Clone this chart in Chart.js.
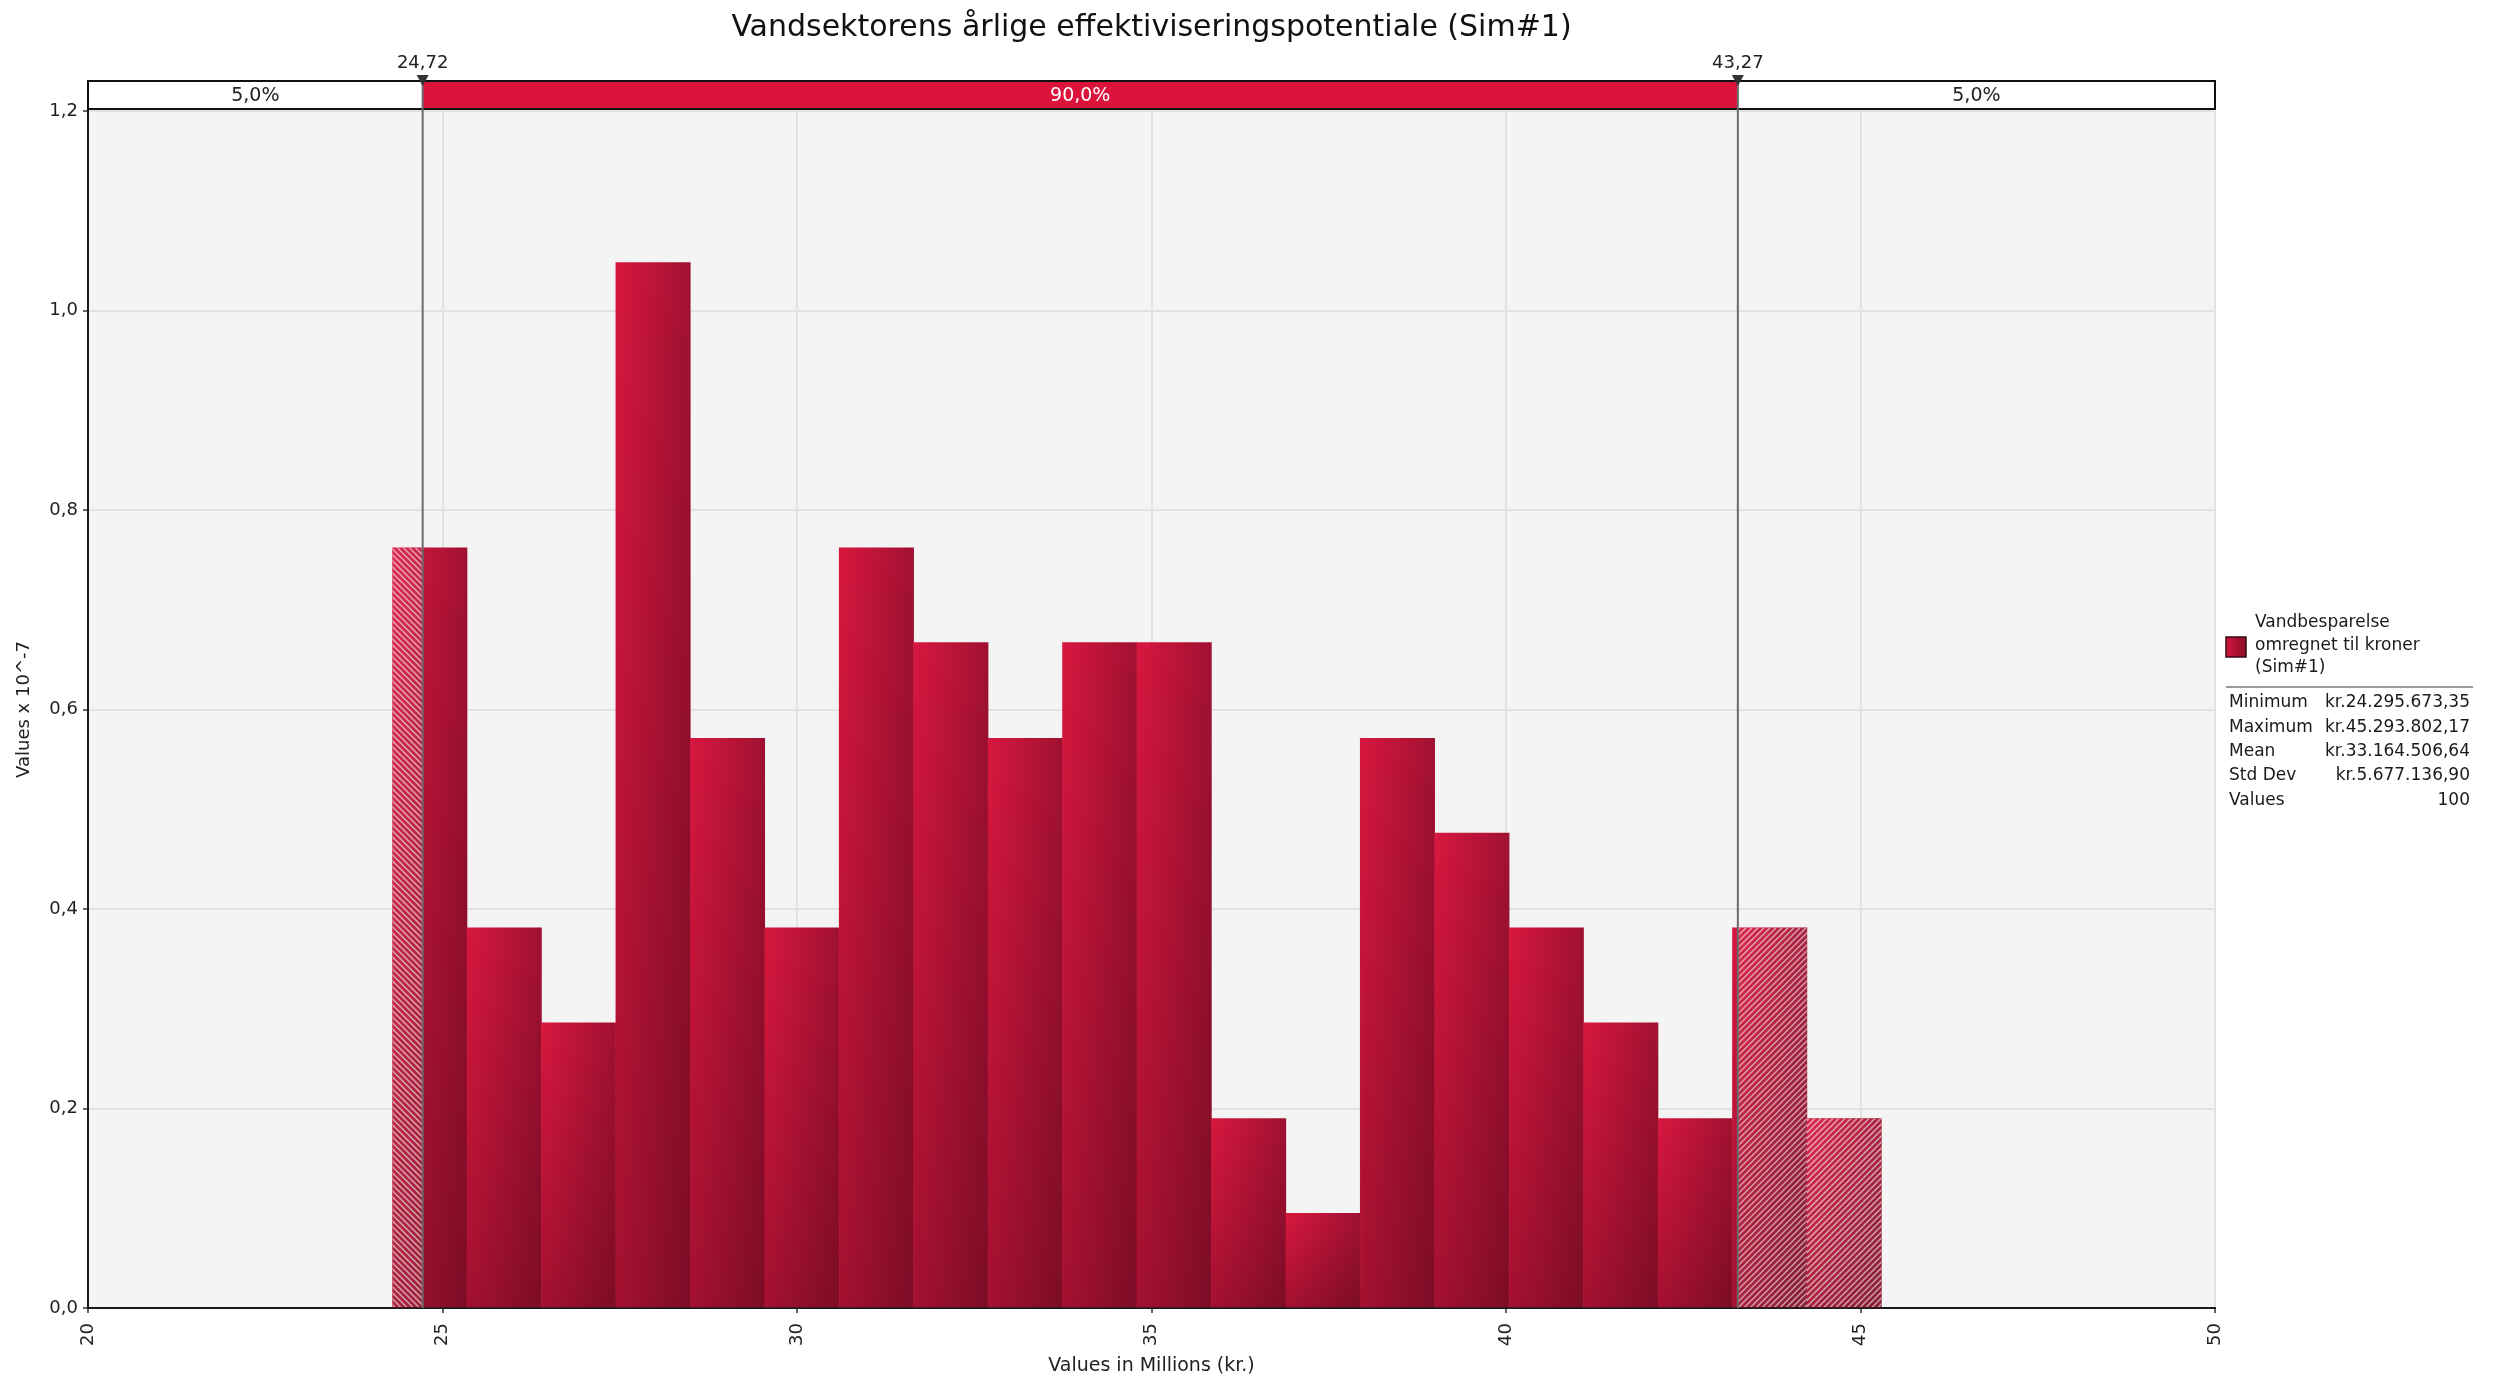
<!DOCTYPE html>
<html>
<head>
<meta charset="utf-8">
<script src="https://cdn.jsdelivr.net/npm/chart.js@4.4.1/dist/chart.umd.min.js"></script>
<style>
  html, body { margin: 0; padding: 0; background: #fff; }
  canvas { display: block; }
</style>
</head>
<body>
<canvas id="chart" width="2496" height="1381"></canvas>
<script>
// histogram bins (centres, in millions kr.) and bar heights (x 10^-7)
const binCenters = [24.821, 25.871, 26.920, 27.970, 29.020, 30.070, 31.120, 32.170, 33.220, 34.270,
                    35.320, 36.370, 37.420, 38.469, 39.519, 40.569, 41.619, 42.669, 43.719, 44.769];
const densities = [0.762, 0.381, 0.286, 1.048, 0.571, 0.381, 0.762, 0.667, 0.571, 0.667,
                   0.667, 0.190, 0.095, 0.571, 0.476, 0.381, 0.286, 0.190, 0.381, 0.190];

// 5% / 95% markers and the band above the plot
const percentileValues = [24.72, 43.27];
const percentileLabels = ['24,72', '43,27'];
const bandLabels = ['5,0%', '90,0%', '5,0%'];

// legend / statistics box
const legendLines = ['Vandbesparelse', 'omregnet til kroner', '(Sim#1)'];
const statNames = ['Minimum', 'Maximum', 'Mean', 'Std Dev', 'Values'];
const statValues = ['kr.24.295.673,35', 'kr.45.293.802,17', 'kr.33.164.506,64', 'kr.5.677.136,90', '100'];

const FONT = '"DejaVu Sans", Verdana, sans-serif';
Chart.defaults.font.family = FONT;
Chart.defaults.color = '#222';

const RED = '#DC143C';

function barFill(c) {
  const chart = c.chart, x = chart.scales && chart.scales.x;
  if (c.type !== 'data' || !x) return '#C0143A';
  const half = (binCenters[1] - binCenters[0]) / 2;
  const l = x.getPixelForValue(binCenters[c.dataIndex] - half);
  const r = x.getPixelForValue(binCenters[c.dataIndex] + half);
  if (!isFinite(l) || !isFinite(r)) return '#C0143A';
  const g = chart.ctx.createLinearGradient(l, 0, r, 0);
  g.addColorStop(0, '#D8173F');
  g.addColorStop(1, '#A01131');
  return g;
}

const extras = {
  id: 'extras',
  beforeDraw(chart) {
    const {ctx, chartArea: a} = chart;
    ctx.save();
    ctx.fillStyle = '#fff';
    ctx.fillRect(0, 0, chart.width, chart.height);
    ctx.fillStyle = '#F4F4F4';
    ctx.fillRect(a.left, a.top, a.right - a.left, a.bottom - a.top);
    ctx.restore();
  },
  afterDatasetsDraw(chart) {
    const {ctx, chartArea: a} = chart;
    const x = chart.scales.x;
    const lo = x.getPixelForValue(percentileValues[0]);
    const hi = x.getPixelForValue(percentileValues[1]);
    ctx.save();

    // vertical shading + hatch on tails
    chart.getDatasetMeta(0).data.forEach(bar => {
      const l = bar.x - bar.width / 2, r = bar.x + bar.width / 2, t = bar.y, b = bar.base;
      if (![l, r, t, b].every(isFinite)) return;
      const g = ctx.createLinearGradient(0, t, 0, b);
      g.addColorStop(0, 'rgba(30,0,8,0)');
      g.addColorStop(1, 'rgba(30,0,8,0.28)');
      ctx.fillStyle = g;
      ctx.fillRect(l, t, r - l, b - t);

      [[l, Math.min(r, lo), -1], [Math.max(l, hi), r, 1]].forEach(([hl, hr, dir]) => {
        if (hr <= hl) return;
        const h = b - t;
        ctx.save();
        ctx.beginPath();
        ctx.rect(hl, t, hr - hl, h);
        ctx.clip();
        ctx.fillStyle = 'rgba(255,255,255,0.08)';
        ctx.fillRect(hl, t, hr - hl, h);
        ctx.strokeStyle = 'rgba(255,255,255,0.55)';
        ctx.lineWidth = 1.5;
        ctx.beginPath();
        for (let s = hl - h - 10; s < hr + 10; s += 6) {
          if (dir > 0) { ctx.moveTo(s, b); ctx.lineTo(s + h, t); }
          else { ctx.moveTo(s, t); ctx.lineTo(s + h, b); }
        }
        ctx.stroke();
        ctx.restore();
      });
    });

    // band above plot
    const bt = a.top - 30, bb = a.top - 2;
    ctx.fillStyle = '#fff';
    ctx.fillRect(a.left, bt, a.right - a.left, bb - bt);
    ctx.fillStyle = RED;
    ctx.fillRect(lo, bt, hi - lo, bb - bt);
    ctx.strokeStyle = '#111';
    ctx.lineWidth = 2;
    ctx.strokeRect(a.left, bt, a.right - a.left, bb - bt);

    ctx.font = '19px ' + FONT;
    ctx.textAlign = 'center';
    ctx.textBaseline = 'middle';
    const mids = [(a.left + lo) / 2, (lo + hi) / 2, (hi + a.right) / 2];
    bandLabels.forEach((s, i) => {
      ctx.fillStyle = i === 1 ? '#fff' : '#222';
      ctx.fillText(s, mids[i], (bt + bb) / 2 + 1);
    });

    // marker lines, triangles, labels
    [lo, hi].forEach((px, i) => {
      ctx.strokeStyle = '#6a6a6a';
      ctx.lineWidth = 2;
      ctx.beginPath();
      ctx.moveTo(px, bt);
      ctx.lineTo(px, a.bottom);
      ctx.stroke();
      ctx.fillStyle = '#333';
      ctx.beginPath();
      ctx.moveTo(px - 6, bt - 6);
      ctx.lineTo(px + 6, bt - 6);
      ctx.lineTo(px, bt + 5);
      ctx.closePath();
      ctx.fill();
      ctx.fillStyle = '#222';
      ctx.font = '18px ' + FONT;
      ctx.fillText(percentileLabels[i], px, bt - 18);
    });

    // legend
    const lx = a.right + 11;
    const sw = ctx.createLinearGradient(lx, 0, lx + 20, 0);
    sw.addColorStop(0, '#D01640');
    sw.addColorStop(1, '#8A0E26');
    ctx.fillStyle = sw;
    ctx.fillRect(lx, 637, 20, 20);
    ctx.strokeStyle = '#3a0a12';
    ctx.lineWidth = 1.5;
    ctx.strokeRect(lx, 637, 20, 20);

    ctx.font = '17px ' + FONT;
    ctx.textAlign = 'left';
    ctx.fillStyle = '#1a1a1a';
    legendLines.forEach((s, i) => ctx.fillText(s, lx + 29, 623 + i * 22.5));

    ctx.strokeStyle = '#9a9a9a';
    ctx.lineWidth = 2;
    ctx.beginPath();
    ctx.moveTo(lx, 687);
    ctx.lineTo(lx + 247, 687);
    ctx.stroke();

    statNames.forEach((s, i) => {
      const y = 703 + i * 24.3;
      ctx.textAlign = 'left';
      ctx.fillText(s, lx + 3, y);
      ctx.textAlign = 'right';
      ctx.fillText(statValues[i], lx + 244, y);
    });
    ctx.restore();
  }
};

new Chart(document.getElementById('chart'), {
  type: 'bar',
  data: {
    datasets: [{
      label: legendLines.join(' '),
      data: binCenters.map((c, i) => ({x: c, y: densities[i]})),
      backgroundColor: barFill,
      borderWidth: 0,
      barPercentage: 1,
      categoryPercentage: 1,
      grouped: false
    }]
  },
  options: {
    responsive: false,
    animation: false,
    devicePixelRatio: 1,
    layout: { padding: { left: 0, right: 281, top: 0, bottom: 0 } },
    plugins: {
      legend: { display: false },
      tooltip: { enabled: false },
      title: {
        display: true,
        text: 'Vandsektorens årlige effektiviseringspotentiale (Sim#1)',
        fullSize: false,
        color: '#111',
        font: { size: 30, weight: 'normal' },
        padding: { top: 10, bottom: 65 }
      }
    },
    scales: {
      x: {
        type: 'linear',
        min: 20,
        max: 50,
        offset: false,
        ticks: {
          stepSize: 5,
          minRotation: 90,
          maxRotation: 90,
          padding: 10,
          font: { size: 18 },
          color: '#222'
        },
        grid: { offset: false, color: '#E2E2E2', lineWidth: 2, tickLength: 5, tickColor: '#333', tickWidth: 1.5 },
        border: { color: '#1a1a1a', width: 2 },
        title: { display: true, text: 'Values in Millions (kr.)', font: { size: 19 }, color: '#222', padding: { top: 0, bottom: 4 } },
        afterFit(scale) { scale.height = 73; }
      },
      y: {
        min: 0,
        max: 1.2,
        ticks: {
          stepSize: 0.2,
          padding: 5,
          font: { size: 18 },
          color: '#222',
          callback: v => v.toFixed(1).replace('.', ',')
        },
        grid: { color: '#E2E2E2', lineWidth: 2, tickLength: 5, tickColor: '#333', tickWidth: 1.5 },
        border: { color: '#1a1a1a', width: 2 },
        title: { display: true, text: 'Values x 10^-7', font: { size: 18 }, color: '#222', padding: { top: 14, bottom: 0 } },
        afterFit(scale) { scale.width = 88; }
      }
    }
  },
  plugins: [extras]
});
</script>
</body>
</html>
